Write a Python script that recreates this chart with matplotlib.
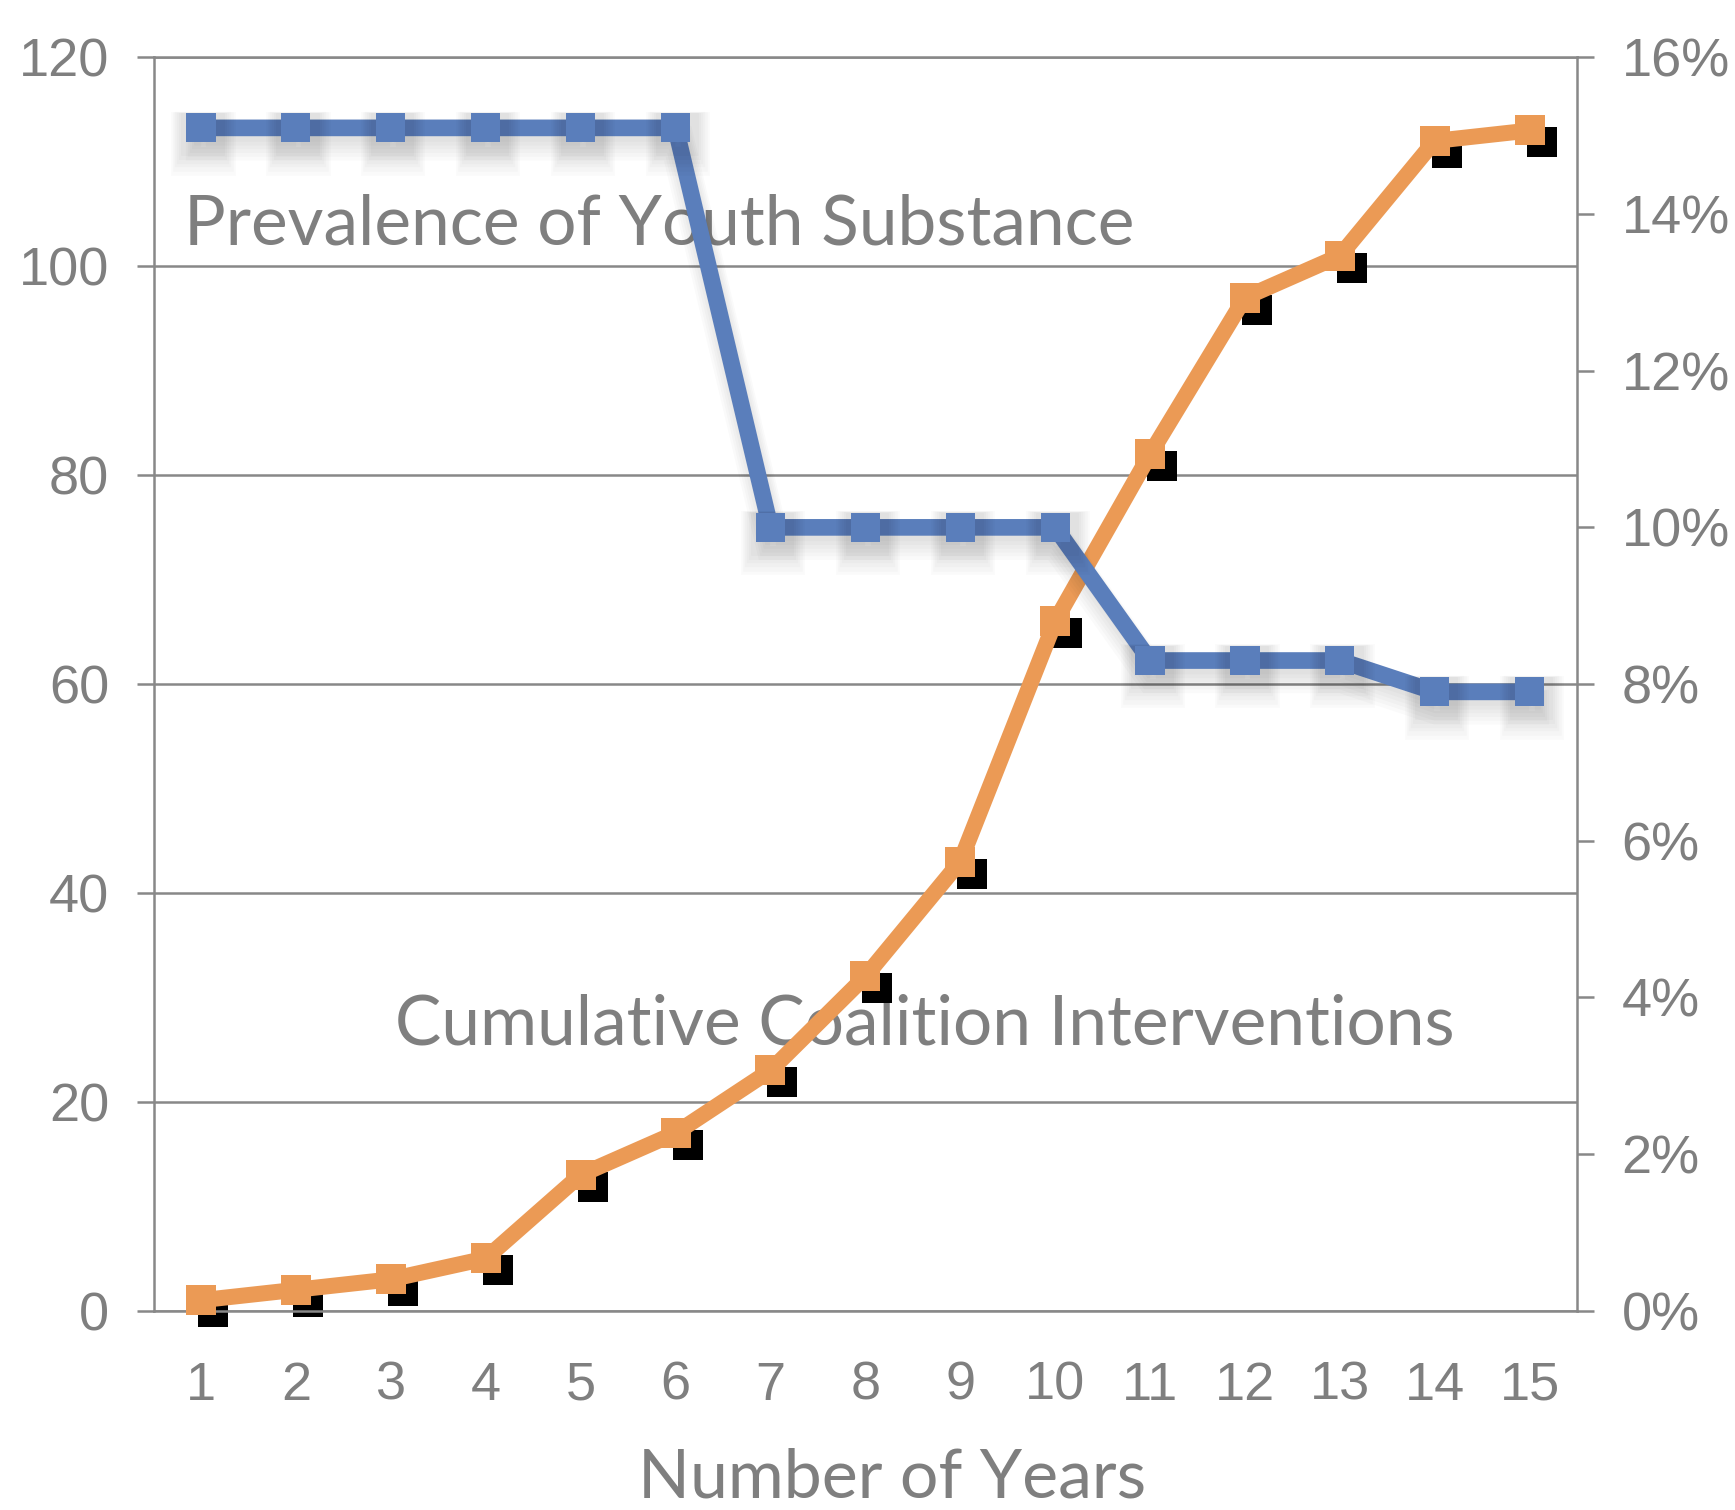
import matplotlib
matplotlib.use('Agg')
import matplotlib.pyplot as plt
import matplotlib.patheffects as pe
from matplotlib.transforms import ScaledTranslation
from matplotlib.ticker import FuncFormatter

# ---- data ----
years = [1, 2, 3, 4, 5, 6, 7, 8, 9, 10, 11, 12, 13, 14, 15]
interventions = [1, 2, 3, 5, 13, 17, 23, 32, 43, 66, 82, 97, 101, 112, 113]
prevalence = [15.1, 15.1, 15.1, 15.1, 15.1, 15.1, 10.0, 10.0, 10.0, 10.0, 8.3, 8.3, 8.3, 7.9, 7.9]
left_ticks = [0, 20, 40, 60, 80, 100, 120]
right_ticks = [0, 2, 4, 6, 8, 10, 12, 14, 16]
label_prev = "Prevalence of Youth Substance"
label_cum = "Cumulative Coalition Interventions"
xlabel = "Number of Years"

# ---- style ----
GRAY_TXT = '#7f7f7f'
GRAY_LN = '#888888'
BLUE = '#5a7ebb'
ORANGE = '#eb9a55'
TICK_FONT = 'Liberation Sans'
ANN_FONT = 'Lato'

fig = plt.figure(figsize=(17.35, 15.1), dpi=100)
ax = fig.add_axes([0.0885, 0.132, 0.8205, 0.830])
ax.set_xlim(0.5, 15.5)
ax.set_ylim(0, 120)
ax.set_yticks(left_ticks)
ax.set_xticks(years)
ax.set_axisbelow(True)
ax.yaxis.grid(True, color=GRAY_LN, linewidth=1.8)
for s in ax.spines.values():
    s.set_color(GRAY_LN)
    s.set_linewidth(1.8)
ax.tick_params(axis='y', length=12, width=1.8, color=GRAY_LN, pad=20,
               labelsize=39, labelcolor=GRAY_TXT)
ax.tick_params(axis='x', length=0, pad=36, labelsize=39, labelcolor=GRAY_TXT)
for lab in ax.get_xticklabels() + ax.get_yticklabels():
    lab.set_fontfamily(TICK_FONT)

ax2 = ax.twinx()
ax2.set_ylim(0, 16)
ax2.set_yticks(right_ticks)
ax2.yaxis.set_major_formatter(FuncFormatter(lambda v, p: f'{int(round(v))}%'))
for s in ax2.spines.values():
    s.set_visible(False)
ax2.tick_params(axis='y', length=12, width=1.8, color=GRAY_LN, pad=20,
                labelsize=39, labelcolor=GRAY_TXT)
for lab in ax2.get_yticklabels():
    lab.set_fontfamily(TICK_FONT)

# annotation texts (below the lines)
ax.text(0.1058, 0.838, label_prev, transform=fig.transFigure, ha='left', va='baseline',
        fontsize=50, color=GRAY_TXT, fontfamily=ANN_FONT, zorder=1, clip_on=False)
ax.text(0.2276, 0.308, label_cum, transform=fig.transFigure, ha='left', va='baseline',
        fontsize=50, color=GRAY_TXT, fontfamily=ANN_FONT, zorder=1, clip_on=False)
fig.text(0.514, 0.008, xlabel, ha='center', va='baseline', fontsize=49,
         color=GRAY_TXT, fontfamily=ANN_FONT)

# orange series with black offset shadow squares
shadow_tr = ax.transData + ScaledTranslation(0.12, -0.12, fig.dpi_scale_trans)
ax.plot(years, interventions, ls='none', marker='s', ms=21, mew=0, color='black',
        transform=shadow_tr, zorder=2, clip_on=False)
ax.plot(years, interventions, color=ORANGE, lw=11.5, marker='s', ms=21, mew=0,
        solid_joinstyle='miter', zorder=3, clip_on=False)

# blue series with soft shadow
shadows = [pe.SimpleLineShadow(offset=(1.5, -5 - 1.2 * k), shadow_color='#000000',
                               alpha=0.02, linewidth=10 + 3 * k) for k in range(6)]
ax2.plot(years, prevalence, color=BLUE, lw=12, marker='s', ms=21, mew=0,
         solid_joinstyle='miter', zorder=3, clip_on=False,
         path_effects=shadows + [pe.Normal()])

fig.savefig('out.png', dpi=100)
